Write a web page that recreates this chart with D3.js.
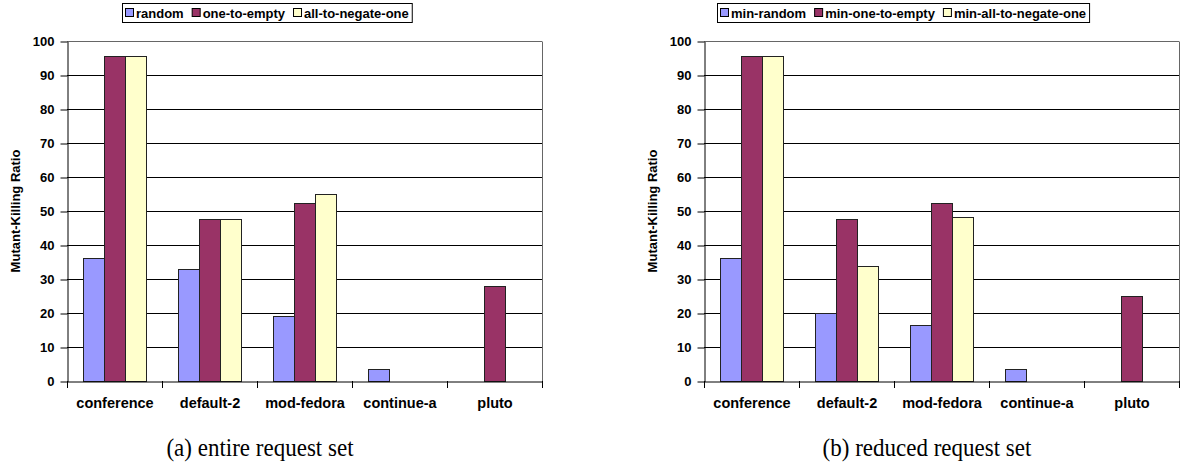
<!DOCTYPE html>
<html>
<head>
<meta charset="utf-8">
<script src="https://cdn.jsdelivr.net/npm/d3@7"></script>
<style>
  body { margin: 0; background: white; }
</style>
</head>
<body>
<div id="chart"></div>
<script>
// categories shared by both panels
const categories = ["conference", "default-2", "mod-fedora", "continue-a", "pluto"];

// (a) entire request set
const seriesA = ["random", "one-to-empty", "all-to-negate-one"];
const randomA = [36.3, 33.0, 19.1, 3.6, 0];
const oneToEmptyA = [95.6, 47.6, 52.4, 0, 27.9];
const allToNegateA = [95.6, 47.6, 54.9, 0, 0];

// (b) reduced request set
const seriesB = ["min-random", "min-one-to-empty", "min-all-to-negate-one"];
const randomB = [36.3, 19.9, 16.6, 3.4, 0];
const oneToEmptyB = [95.6, 47.6, 52.4, 0, 24.9];
const allToNegateB = [95.6, 33.7, 48.2, 0, 0];

const yTicks = [0, 10, 20, 30, 40, 50, 60, 70, 80, 90, 100];
const colors = ["#9999ff", "#993366", "#ffffcc"];
const SANS = "Liberation Sans, Arial, Helvetica, sans-serif";

const svg = d3.select("#chart").append("svg")
  .attr("width", 1181)
  .attr("height", 464);

function panel(opts) {
  const g = svg.append("g");
  const x0 = d3.scaleBand().domain(categories).range([opts.left, opts.left + 475]);
  const x1 = d3.scaleBand().domain(opts.series).range([16, 79]);
  const y = d3.scaleLinear().domain([0, 100]).range([381, 41]);
  const plotMid = opts.left + 475 / 2;

  // gridlines
  g.selectAll(".grid").data(yTicks.filter(d => d > 0))
    .enter().append("line")
    .attr("x1", opts.left).attr("x2", opts.left + 475)
    .attr("y1", d => Math.round(y(d)) + 0.5).attr("y2", d => Math.round(y(d)) + 0.5)
    .attr("stroke", d => d === 100 ? "#666" : "#000")
    .attr("stroke-width", 1);
  // right border
  g.append("line")
    .attr("x1", opts.left + 475.5).attr("x2", opts.left + 475.5)
    .attr("y1", Math.round(y(100)) + 0.5).attr("y2", Math.round(y(0)) + 0.5)
    .attr("stroke", "#666");

  // bars
  const rows = categories.map((c, i) => ({ cat: c, vals: opts.values.map(v => v[i]) }));
  const grp = g.selectAll(".grp").data(rows).enter().append("g")
    .attr("transform", d => `translate(${x0(d.cat)},0)`);
  grp.selectAll("rect")
    .data(d => d.vals.map((v, k) => ({ s: opts.series[k], v: v, k: k })).filter(e => e.v > 0))
    .enter().append("rect")
    .attr("x", d => Math.round(x1(d.s)) + 0.5)
    .attr("width", Math.round(x1.bandwidth()))
    .attr("y", d => Math.round(y(d.v)) + 0.5)
    .attr("height", d => Math.round(y(0)) - Math.round(y(d.v)))
    .attr("fill", d => colors[d.k])
    .attr("stroke", "#222")
    .attr("stroke-width", 1);

  // y axis
  const yAxis = g.append("g")
    .attr("transform", `translate(${opts.left + 0.5},0.5)`)
    .call(d3.axisLeft(y).tickValues(yTicks).tickSize(7).tickPadding(6).tickSizeOuter(0));
  yAxis.select(".domain").attr("stroke", "#000");
  yAxis.selectAll("text").attr("font-size", 13).attr("font-weight", "bold")
    .attr("font-family", SANS).attr("fill", "#000");

  // x axis
  const xAxis = g.append("g")
    .attr("transform", `translate(0.5,${Math.round(y(0)) + 0.5})`)
    .call(d3.axisBottom(x0).tickSize(0).tickPadding(16));
  xAxis.select(".domain").attr("stroke", "#000");
  xAxis.selectAll("text").attr("font-size", 14.5).attr("font-weight", "bold")
    .attr("font-family", SANS).attr("fill", "#000");
  // category separators
  g.selectAll(".sep").data(d3.range(categories.length + 1))
    .enter().append("line")
    .attr("x1", i => opts.left + i * 95 + 0.5).attr("x2", i => opts.left + i * 95 + 0.5)
    .attr("y1", Math.round(y(0))).attr("y2", Math.round(y(0)) + 7)
    .attr("stroke", "#000");

  // y title
  g.append("text")
    .attr("transform", `translate(${opts.left - 47},${y(50)}) rotate(-90)`)
    .attr("text-anchor", "middle")
    .attr("font-family", SANS)
    .attr("font-size", 13).attr("font-weight", "bold")
    .text("Mutant-Killing Ratio");

  // legend
  const lg = g.append("g");
  let cx = 0;
  opts.series.forEach((s, k) => {
    const it = lg.append("g");
    it.append("rect").attr("x", cx + 0.5).attr("y", 8.5).attr("width", 8).attr("height", 8)
      .attr("fill", colors[k]).attr("stroke", "#000");
    const t = it.append("text").attr("x", cx + 11).attr("y", 17.5)
      .attr("font-family", SANS)
      .attr("font-size", 13).attr("font-weight", "bold").text(s);
    cx += 11 + t.node().getComputedTextLength() + (k < opts.series.length - 1 ? 8 : 0);
  });
  const lw = cx + 6;
  const lx = Math.round(plotMid - 38 - lw / 2);
  lg.attr("transform", `translate(${lx + 3},0)`);
  g.insert("rect", ":first-child")
    .attr("x", lx + 0.5).attr("y", 3.5).attr("width", lw).attr("height", 19)
    .attr("fill", "#fff").attr("stroke", "#000");

  // caption (slightly narrow, tall serif like the original)
  svg.append("text")
    .attr("transform", `translate(${opts.captionX},456) scale(0.92,1)`)
    .attr("text-anchor", "middle")
    .attr("font-family", "Liberation Serif, Times New Roman, serif")
    .attr("font-size", 25)
    .text(opts.caption);
}

panel({
  left: 67, series: seriesA, values: [randomA, oneToEmptyA, allToNegateA],
  caption: "(a) entire request set", captionX: 260
});
panel({
  left: 704, series: seriesB, values: [randomB, oneToEmptyB, allToNegateB],
  caption: "(b) reduced request set", captionX: 927
});
</script>
</body>
</html>
